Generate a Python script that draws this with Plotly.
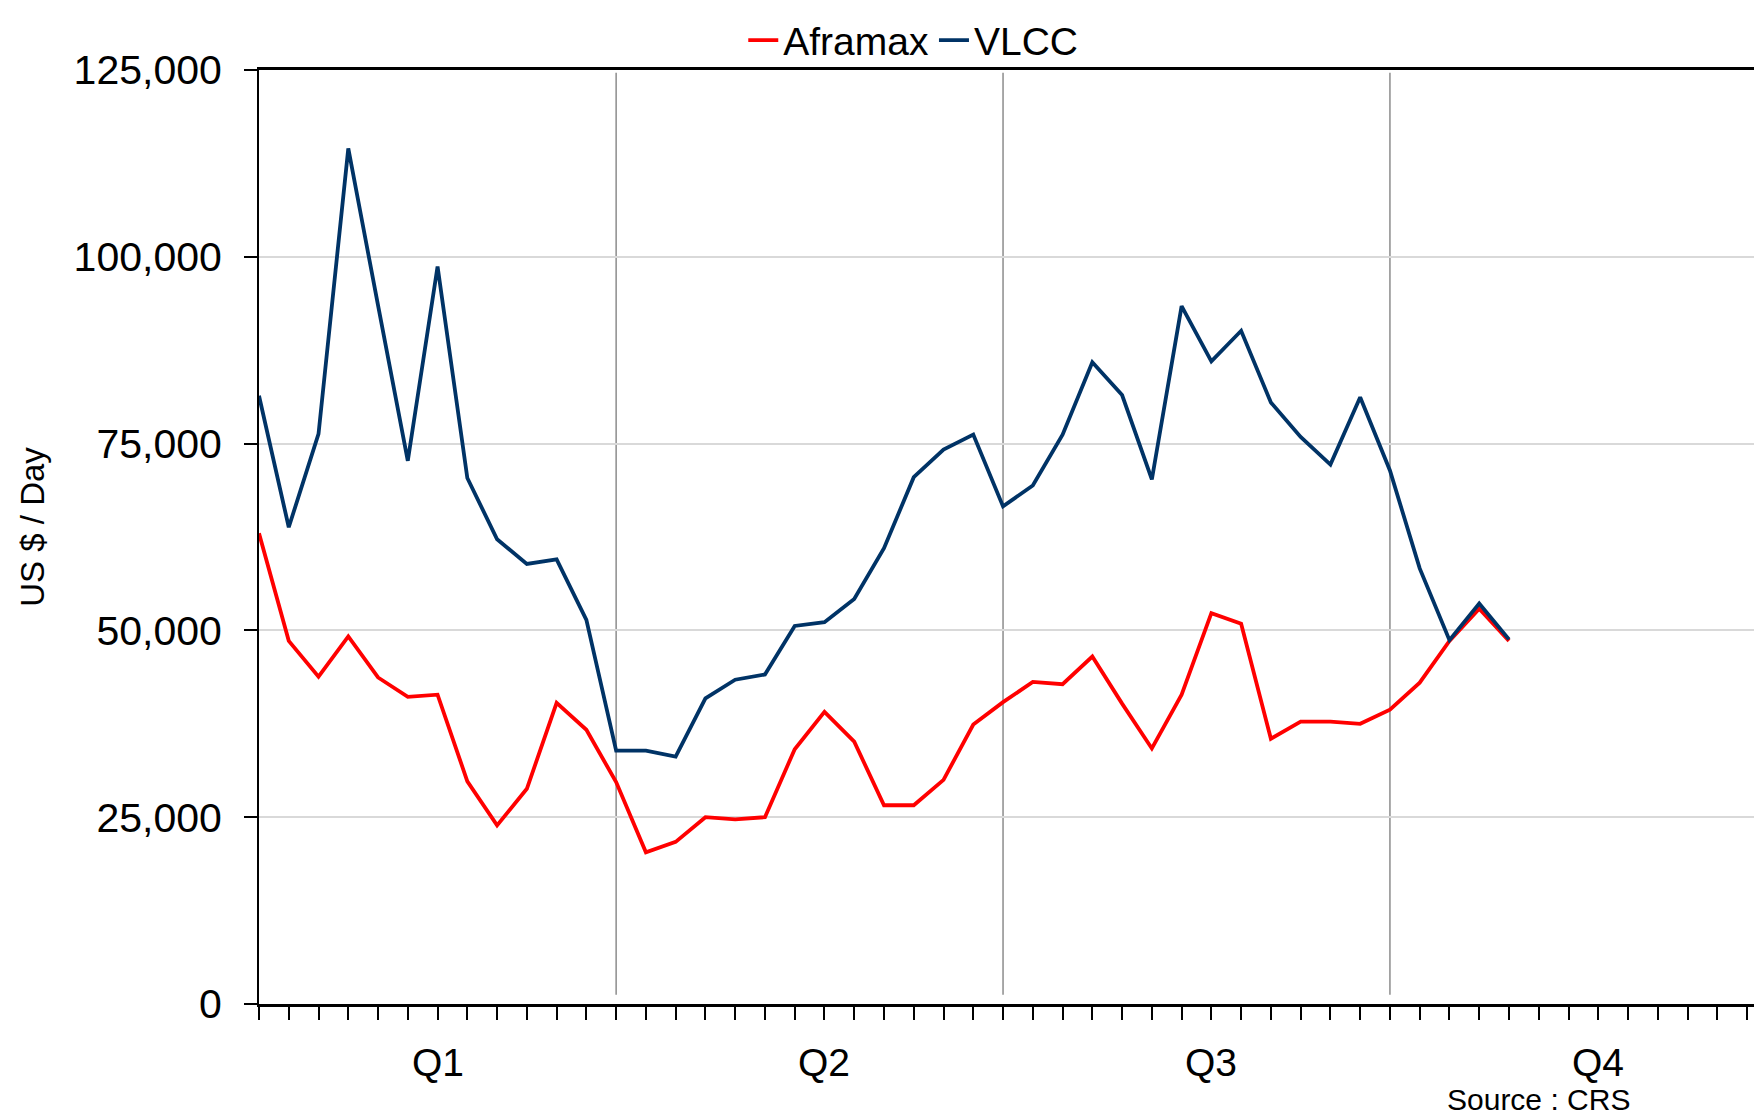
import plotly.graph_objects as go

# ---- data ----
weeks = list(range(1, 44))
aframax = [63000, 48600, 43800, 49200, 43700, 41100, 41400, 29800, 23900, 28800,
           40300, 36700, 29700, 20300, 21700, 25000, 24700, 25000, 34100, 39100,
           35100, 26600, 26600, 30000, 37400, 40400, 43100, 42800, 46500, 40200,
           34200, 41400, 52300, 50900, 35500, 37800, 37800, 37500, 39400, 43000,
           48600, 52900, 48600]
vlcc = [81400, 63800, 76300, 114500, 93500, 72700, 98700, 70400, 62200, 58900,
        59500, 51400, 33900, 33900, 33100, 40900, 43400, 44100, 50600, 51100,
        54200, 61000, 70500, 74200, 76200, 66600, 69400, 76200, 85900, 81500,
        70200, 93400, 86000, 90100, 80500, 75900, 72200, 81200, 71400, 58300,
        48700, 53600, 48800]
quarter_labels = ["Q1", "Q2", "Q3", "Q4"]
quarter_label_weeks = [7, 20, 33, 46]
quarter_boundaries = [13, 26, 39]
all_weeks = list(range(1, 53))
y_ticks = [0, 25000, 50000, 75000, 100000, 125000]

FONT = "Liberation Sans, Arial, sans-serif"

fig = go.Figure()
fig.add_trace(go.Scatter(x=weeks, y=aframax, mode="lines", name="Aframax",
                         line=dict(color="#FF0000", width=3.8)))
fig.add_trace(go.Scatter(x=weeks, y=vlcc, mode="lines", name="VLCC",
                         line=dict(color="#003366", width=3.8)))

for b in quarter_boundaries:
    fig.add_shape(type="line", xref="x", yref="paper", x0=b, x1=b, y0=0.01, y1=0.997,
                  line=dict(color="#8C8C8C", width=1.5), layer="below")

for lab, w in zip(quarter_labels, quarter_label_weeks):
    fig.add_annotation(text=lab, x=w, xref="x", y=0, yref="paper", yanchor="middle",
                       yshift=-58, showarrow=False, font=dict(size=39, color="black", family=FONT))

fig.add_annotation(text="Source : CRS", x=0.847, xref="paper", y=0, yref="paper",
                   xanchor="center", yanchor="bottom", yshift=-114, showarrow=False,
                   font=dict(size=30, color="black", family=FONT))
fig.add_annotation(text="US $ / Day", x=0, xref="paper", y=0.511, yref="paper",
                   xanchor="center", yanchor="middle", xshift=-226, textangle=-90,
                   showarrow=False, font=dict(size=33, color="black", family=FONT))

fig.update_layout(
    width=1762, height=1114,
    margin=dict(l=251, r=0, t=62, b=118, autoexpand=False),
    paper_bgcolor="white", plot_bgcolor="white",
    font=dict(family=FONT, color="black"),
    showlegend=True,
    legend=dict(orientation="h", x=0.433, xanchor="center", y=1.066, yanchor="top",
                yref="paper", font=dict(size=39, color="black", family=FONT),
                tracegroupgap=0, bgcolor="rgba(0,0,0,0)"),
    xaxis=dict(range=[1, 51.77], tickvals=all_weeks, ticktext=[""] * len(all_weeks),
               ticks="outside", ticklen=13, tickwidth=2, tickcolor="black",
               showline=True, linecolor="black", linewidth=3, mirror=True,
               showgrid=False, zeroline=False, fixedrange=True),
    yaxis=dict(range=[0, 125000], tickvals=y_ticks, tickformat=",d",
               ticks="outside", ticklen=13, tickwidth=2, tickcolor="black",
               showline=True, linecolor="black", linewidth=2,
               showgrid=True, gridcolor="#D9D9D9", gridwidth=1.5, zeroline=False,
               tickfont=dict(size=41, color="black", family=FONT),
               ticklabelstandoff=14, fixedrange=True),
)

fig.write_html("out.html")
